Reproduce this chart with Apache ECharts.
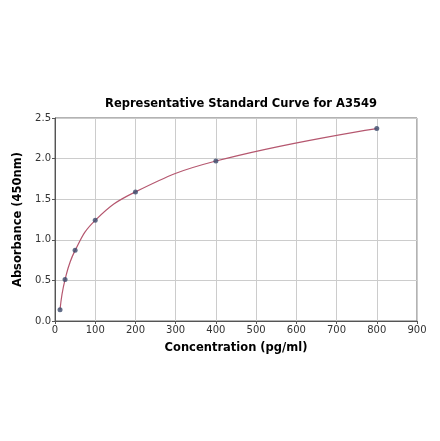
<!DOCTYPE html>
<html>
<head>
<meta charset="utf-8">
<script src="https://cdn.jsdelivr.net/npm/echarts@6/dist/echarts.min.js"></script>
<style>
html,body{margin:0;padding:0;background:#fff;}
#demo{width:440px;height:441px;}
</style>
</head>
<body>
<div id="demo"></div>
<script>
var concentration = [12.5, 25, 50, 100, 200, 400, 800];
var absorbance = [0.14, 0.51, 0.87, 1.24, 1.59, 1.97, 2.37];
var xTicks = [0, 100, 200, 300, 400, 500, 600, 700, 800, 900];
var yTicks = [0.0, 0.5, 1.0, 1.5, 2.0, 2.5];

var points = concentration.map(function (c, i) { return [c, absorbance[i]]; });
var font = 'DejaVu Sans';

var option = {
    backgroundColor: '#fff',
    animation: false,
    title: {
        text: 'Representative Standard Curve for A3549',
        left: 236,
        top: 93,
        textAlign: 'center',
        textStyle: { fontFamily: font, fontSize: 11.5, fontWeight: 'bold', color: '#000' }
    },
    grid: { left: 55, right: 23, top: 118, bottom: 120, show: true, borderColor: '#666', borderWidth: 1 },
    xAxis: {
        type: 'value',
        min: xTicks[0],
        max: xTicks[xTicks.length - 1],
        interval: 100,
        name: 'Concentration (pg/ml)',
        nameLocation: 'middle',
        nameGap: 21,
        nameTextStyle: { fontFamily: font, fontSize: 11.5, fontWeight: 'bold', color: '#000' },
        axisLine: { lineStyle: { color: '#555', width: 1 } },
        axisTick: { show: true, length: 3, lineStyle: { color: '#555' } },
        axisLabel: { fontFamily: font, fontSize: 10, color: '#333', margin: 4 },
        splitLine: { show: true, lineStyle: { color: '#ccc', width: 1 } }
    },
    yAxis: {
        type: 'value',
        min: yTicks[0],
        max: yTicks[yTicks.length - 1],
        interval: 0.5,
        name: 'Absorbance (450nm)',
        nameLocation: 'middle',
        nameGap: 26,
        nameTextStyle: { fontFamily: font, fontSize: 11.5, fontWeight: 'bold', color: '#000' },
        axisLine: { show: true, lineStyle: { color: '#555', width: 1 } },
        axisTick: { show: true, length: 3, lineStyle: { color: '#555' } },
        axisLabel: {
            fontFamily: font, fontSize: 10, color: '#333', margin: 4,
            formatter: function (v) { return v.toFixed(1); }
        },
        splitLine: { show: true, lineStyle: { color: '#ccc', width: 1 } }
    },
    series: [
        {
            type: 'line',
            data: points,
            smooth: 0.45,
            showSymbol: false,
            lineStyle: { color: '#b5576f', width: 1.2 },
            z: 2
        },
        {
            type: 'scatter',
            data: points,
            symbolSize: 5,
            itemStyle: { color: '#3b4a6b' },
            z: 3
        }
    ]
};

var myCharts = echarts.init(document.getElementById('demo'));
myCharts.setOption(option);
</script>
</body>
</html>
